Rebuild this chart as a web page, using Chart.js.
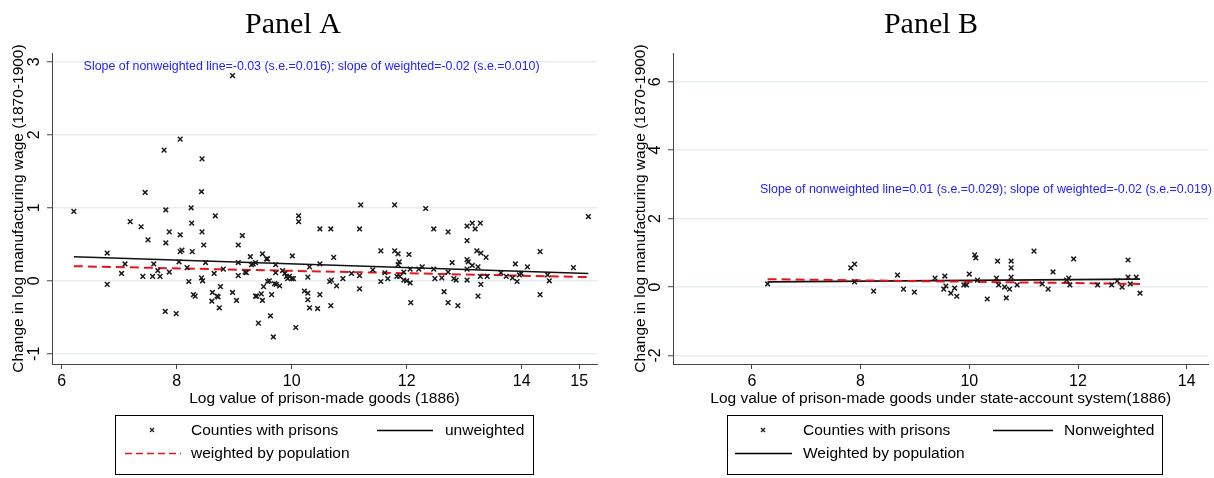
<!DOCTYPE html>
<html>
<head>
<meta charset="utf-8">
<script src="https://cdn.jsdelivr.net/npm/chart.js@4.4.1/dist/chart.umd.min.js"></script>
<style>
  body { margin: 0; background: #fff; }
  #wrap { position: relative; width: 1214px; height: 478px; overflow: hidden; font-family: "Liberation Sans", Arial, sans-serif; }
  canvas { position: absolute; top: 0; }
  .lg { position: absolute; font-size: 15.5px; line-height: 18px; color: #000; white-space: nowrap; }
  .box { position: absolute; border: 1px solid #000; box-sizing: border-box; }
  svg { position: absolute; left: 0; top: 0; }
</style>
</head>
<body>
<div id="wrap">
  <canvas id="panelA" width="607" height="478" style="left:0"></canvas>
  <canvas id="panelB" width="607" height="478" style="left:607px"></canvas>

  <div class="box" style="left:115px;top:415px;width:419px;height:60px"></div>
  <div class="lg" style="left:191px;top:421px">Counties with prisons</div>
  <div class="lg" style="left:445px;top:421px">unweighted</div>
  <div class="lg" style="left:191px;top:444px">weighted by population</div>

  <div class="box" style="left:727px;top:415px;width:436px;height:60px"></div>
  <div class="lg" style="left:803px;top:421px">Counties with prisons</div>
  <div class="lg" style="left:1064px;top:421px">Nonweighted</div>
  <div class="lg" style="left:803px;top:444px">Weighted by population</div>

  <svg width="1214" height="478">
    <path d="M150 428 l4 4 M154 428 l-4 4" stroke="#222" stroke-width="1.4"/>
    <line x1="377" y1="430.5" x2="433" y2="430.5" stroke="#000" stroke-width="1.3"/>
    <line x1="125" y1="453.5" x2="181" y2="453.5" stroke="#e8141c" stroke-width="1.6" stroke-dasharray="7,4"/>
    <path d="M761 428 l4 4 M765 428 l-4 4" stroke="#222" stroke-width="1.4"/>
    <line x1="993" y1="430.5" x2="1053" y2="430.5" stroke="#000" stroke-width="1.3"/>
    <line x1="735" y1="453.5" x2="792" y2="453.5" stroke="#000" stroke-width="1.3"/>
  </svg>
</div>

<script>
// ---- Panel A data ----
const aX = [8.97, 6.21, 6.79, 6.79, 7.04, 7.10, 7.19, 7.38, 7.41, 7.50, 7.58, 7.60, 7.67, 7.71, 7.80, 7.81, 7.87, 7.87, 7.99, 8.04,
  8.06, 8.06, 8.09, 8.18, 8.21, 8.26, 8.27, 8.29, 8.32, 8.44, 8.43, 8.45, 8.47, 8.50, 8.62, 8.61, 8.65, 8.70, 8.72, 8.74,
  8.76, 8.81, 8.97, 9.04, 9.07, 9.14, 9.07, 9.07, 9.19, 9.21, 9.28, 9.30, 9.33, 9.37, 9.37, 9.39, 9.42, 9.47, 9.49, 9.49,
  9.51, 9.56, 9.58, 9.58, 9.61, 9.63, 9.65, 9.68, 9.70, 9.72, 9.72, 9.73, 9.79, 9.84, 9.88, 9.91, 9.93, 9.96, 10.00, 10.03,
  10.01, 10.07, 10.12, 10.12, 10.28, 10.22, 10.28, 10.28, 10.31, 10.31, 10.45, 10.49, 10.49, 11.20, 11.79, 12.33, 10.68, 11.18, 12.47, 12.72,
  13.05, 13.14, 13.19, 13.28, 15.16, 10.73, 10.49, 10.66, 10.69, 10.78, 10.89, 11.04, 11.18, 11.18, 10.68, 11.41, 11.55, 11.55, 11.62, 11.67,
  11.79, 11.85, 11.87, 11.85, 11.83, 11.88, 11.95, 11.95, 12.00, 12.04, 12.06, 12.06, 12.07, 12.21, 12.27, 12.47, 12.49, 12.61, 12.65, 12.72,
  12.79, 12.72, 12.82, 12.86, 12.89, 13.05, 13.05, 13.07, 13.05, 13.05, 13.22, 13.29, 13.14, 13.24, 13.38, 13.28, 13.40, 13.29, 13.24, 13.64,
  13.73, 13.89, 13.84, 13.92, 13.96, 13.99, 14.10, 14.32, 14.32, 14.45, 14.48, 14.90, 7.45, 7.78, 7.81, 8.06, 8.25, 8.44, 8.43, 8.67];
const aY = [2.81, 0.95, 0.38, -0.05, 0.10, 0.23, 0.81, 0.74, 0.06, 0.56, 0.06, 0.23, 0.14, 0.06, -0.42, 0.52, 0.67, 0.12, -0.45, 0.26,
  0.63, 0.40, 0.42, 0.18, -0.01, 0.79, 0.40, -0.19, -0.21, 0.67, 0.04, 0.00, 0.49, 0.25, -0.16, -0.28, 0.10, -0.21, -0.22, -0.37,
  -0.08, 0.16, -0.16, -0.27, 0.49, 0.62, 0.07, 0.25, 0.12, 0.11, 0.33, 0.22, 0.23, 0.25, -0.21, -0.21, -0.58, -0.18, -0.27, 0.37,
  -0.08, 0.30, 0.30, -0.01, 0.00, -0.48, -0.19, -0.77, -0.04, 0.22, 0.11, -0.05, -0.07, 0.14, 0.10, 0.06, 0.03, 0.06, 0.03, 0.03,
  0.34, -0.64, 0.81, 0.89, 0.05, -0.14, -0.17, -0.26, 0.19, -0.37, -0.38, -0.19, 0.71, 1.04, 1.04, 0.99, 0.71, 0.71, 0.71, 0.67,
  0.75, 0.79, 0.71, 0.79, 0.88, 0.32, 0.23, -0.01, 0.01, -0.07, 0.03, 0.10, 0.07, -0.11, -0.34, 0.15, 0.41, -0.01, 0.11, 0.03,
  0.41, 0.37, 0.26, 0.22, 0.06, 0.06, 0.12, 0.01, 0.00, 0.36, 0.16, -0.03, -0.30, 0.16, 0.19, 0.16, 0.03, 0.04, -0.15, 0.12,
  0.25, -0.30, 0.03, 0.01, -0.34, 0.55, 0.29, 0.26, 0.16, 0.01, 0.41, 0.38, 0.21, 0.19, 0.32, 0.06, 0.06, -0.05, -0.21, 0.11,
  0.06, 0.23, 0.04, -0.01, 0.08, 0.10, 0.19, 0.40, -0.19, 0.08, 0.00, 0.18, 1.21, 1.79, 0.97, 1.94, 1.00, 1.67, 1.22, 0.89];
const aFitX = [6.21, 15.16];
const aFitUnweighted = [0.33, 0.10];
const aFitWeighted = [0.20, 0.05];
const aTicksX = [6, 8, 10, 12, 14, 15];
const aTicksY = [-1, 0, 1, 2, 3];

// ---- Panel B data ----
const bX = [6.29, 7.82, 7.89, 7.89, 8.24, 8.68, 8.79, 8.99, 9.37, 9.55, 9.53, 9.57, 9.66, 9.73, 9.77, 9.90, 9.95, 10.00, 10.10, 10.12,
  10.15, 10.33, 10.52, 10.50, 10.54, 10.65, 10.68, 10.74, 10.77, 10.77, 10.77, 10.88, 11.19, 11.34, 11.45, 11.54, 11.79, 11.83, 11.85, 11.92,
  12.36, 12.62, 12.72, 12.81, 12.92, 12.92, 12.96, 13.07, 13.14];
const bY = [0.09, 0.56, 0.67, 0.15, -0.12, 0.35, -0.06, -0.15, 0.26, 0.32, -0.06, 0.03, -0.18, -0.03, -0.27, 0.06, 0.06, 0.38, 0.94, 0.85,
  0.20, -0.35, 0.76, 0.26, 0.06, 0.00, -0.32, -0.06, 0.76, 0.56, 0.29, 0.06, 1.05, 0.09, -0.06, 0.44, 0.20, 0.26, 0.06, 0.82,
  0.06, 0.06, 0.18, 0.00, 0.79, 0.29, 0.09, 0.29, -0.18];
const bFitX = [6.29, 13.14];
const bFitUnweighted = [0.15, 0.23];
const bFitWeighted = [0.23, 0.09];
const bTicksX = [6, 8, 10, 12, 14];
const bTicksY = [-2, 0, 2, 4, 6];

Chart.defaults.font.family = '"Liberation Sans", Arial, sans-serif';
Chart.defaults.color = '#000';

const pairs = (xs, ys) => xs.map((x, i) => ({ x: x, y: ys[i] }));

// title, slope note and vertical y labels, Stata style
const panelText = {
  id: 'panelText',
  afterDraw(chart, args, opts) {
    const { ctx, chartArea, scales } = chart;
    ctx.save();
    ctx.fillStyle = '#000';
    ctx.textAlign = 'center';
    ctx.textBaseline = 'middle';
    ctx.font = '30px "Liberation Serif", serif';
    ctx.fillText(opts.title, opts.titleX, 25);

    ctx.font = '16px "Liberation Sans", Arial, sans-serif';
    scales.y.ticks.forEach(t => {
      ctx.save();
      ctx.translate(chartArea.left - 17, scales.y.getPixelForValue(t.value));
      ctx.rotate(-Math.PI / 2);
      ctx.fillText(String(t.value), 0, 0);
      ctx.restore();
    });

    ctx.font = '12.4px "Liberation Sans", Arial, sans-serif';
    ctx.fillStyle = '#2222ff';
    ctx.textAlign = 'left';
    ctx.fillText(opts.note, scales.x.getPixelForValue(opts.noteAt[0]), scales.y.getPixelForValue(opts.noteAt[1]));
    ctx.restore();
  }
};

function makePanel(id, cfg) {
  return new Chart(document.getElementById(id), {
    type: 'scatter',
    data: {
      datasets: [
        {
          label: 'Counties with prisons',
          data: pairs(cfg.xs, cfg.ys),
          pointStyle: 'crossRot',
          radius: 3.3,
          borderColor: '#1a1a1a',
          borderWidth: 1.5
        },
        {
          type: 'line',
          label: 'weighted',
          data: pairs(cfg.fitX, cfg.fitW),
          borderColor: '#e8141c',
          borderWidth: 2,
          borderDash: [9, 5],
          pointRadius: 0
        },
        {
          type: 'line',
          label: 'unweighted',
          data: pairs(cfg.fitX, cfg.fitU),
          borderColor: '#111',
          borderWidth: 1.6,
          pointRadius: 0
        }
      ]
    },
    options: {
      responsive: false,
      animation: false,
      devicePixelRatio: 1,
      layout: { padding: { top: 53, bottom: 68, left: 0, right: cfg.padRight } },
      plugins: {
        legend: { display: false },
        tooltip: { enabled: false },
        panelText: { title: cfg.title, titleX: cfg.titleX, note: cfg.note, noteAt: cfg.noteAt }
      },
      scales: {
        x: {
          type: 'linear',
          min: cfg.xMin,
          max: cfg.xMax,
          afterBuildTicks: s => { s.ticks = cfg.ticksX.map(v => ({ value: v })); },
          afterFit: s => { s.height = 46; },
          grid: { drawOnChartArea: false, drawTicks: true, tickLength: 5, tickColor: '#444' },
          border: { color: '#444', width: 1 },
          ticks: { font: { size: 16 }, padding: 3, maxRotation: 0, autoSkip: false, color: '#000' },
          title: { display: true, text: cfg.xTitle, font: { size: 15.5 }, color: '#000', padding: { top: 0, bottom: 2 } }
        },
        y: {
          type: 'linear',
          min: cfg.yMin,
          max: cfg.yMax,
          afterBuildTicks: s => { s.ticks = cfg.ticksY.map(v => ({ value: v })); },
          afterFit: s => { s.width = cfg.yWidth; },
          grid: { color: '#e6eef0', lineWidth: 1.5, drawTicks: true, tickLength: 5, tickColor: '#444', tickWidth: 1 },
          border: { color: '#444', width: 1 },
          ticks: { display: false },
          title: { display: true, text: 'Change in log manufacturing wage (1870-1900)', font: { size: 15.5 }, color: '#000', padding: { top: cfg.yTitlePad, bottom: 0 } }
        }
      }
    },
    plugins: [panelText]
  });
}

makePanel('panelA', {
  xs: aX, ys: aY, fitX: aFitX, fitU: aFitUnweighted, fitW: aFitWeighted,
  ticksX: aTicksX, ticksY: aTicksY,
  xMin: 5.83, xMax: 15.31, yMin: -1.14, yMax: 3.12,
  yWidth: 52, yTitlePad: 9, padRight: 10,
  title: 'Panel A', titleX: 293,
  xTitle: 'Log value of prison-made goods (1886)',
  note: 'Slope of nonweighted line=-0.03 (s.e.=0.016); slope of weighted=-0.02 (s.e.=0.010)',
  noteAt: [6.38, 2.93]
});

makePanel('panelB', {
  xs: bX, ys: bY, fitX: bFitX, fitU: bFitUnweighted, fitW: bFitWeighted,
  ticksX: bTicksX, ticksY: bTicksY,
  xMin: 4.55, xMax: 14.4, yMin: -2.25, yMax: 6.84,
  yWidth: 66, yTitlePad: 24, padRight: 1,
  title: 'Panel B', titleX: 324,
  xTitle: 'Log value of prison-made goods under state-account system(1886)',
  note: 'Slope of nonweighted line=0.01 (s.e.=0.029); slope of weighted=-0.02 (s.e.=0.019)',
  noteAt: [6.15, 2.84]
});
</script>
</body>
</html>
